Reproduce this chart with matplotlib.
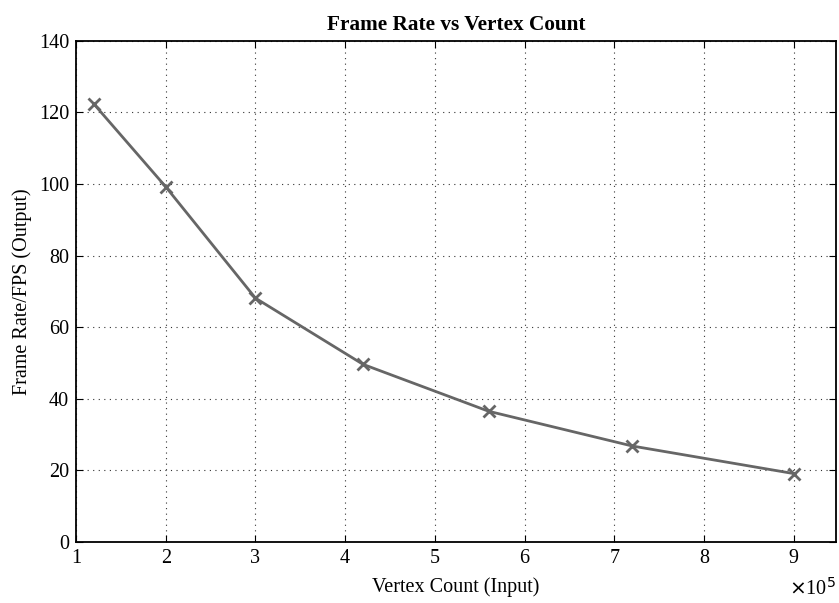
import numpy as np
from matplotlib import pyplot as plt

vertex_count = [1.2e5, 2e5, 3e5, 4.2e5, 5.6e5, 7.2e5, 9e5]
frame_rate = [122.3, 99.2, 68.1, 49.6, 36.5, 26.8, 19.1]
x_ticks = [1, 2, 3, 4, 5, 6, 7, 8, 9]
y_ticks = [0, 20, 40, 60, 80, 100, 120, 140]

plt.rcParams['font.family'] = ['Liberation Serif', 'DejaVu Serif']
plt.rcParams['font.size'] = 14.5

fig = plt.figure(figsize=(8.39, 6.03), dpi=100)
ax = fig.add_axes([0.0906, 0.1012, 0.9058, 0.8313])

x = np.array(vertex_count) / 1e5
ax.plot(x, frame_rate, color='#666666', lw=2, marker='x', ms=9, mew=2)

ax.set_xlim(1, 9.47)
ax.set_ylim(0, 140)
ax.set_xticks(x_ticks)
ax.set_yticks(y_ticks)
ax.grid(True, color='#333333', ls=(0, (1, 4)), lw=0.8)
ax.tick_params(direction='in', top=True, right=True, length=5, width=0.8, pad=5)
for s in ax.spines.values():
    s.set_linewidth(1.3)

ax.set_title('Frame Rate vs Vertex Count', fontweight='bold', fontsize=15.3, pad=8)
ax.set_xlabel('Vertex Count (Input)', labelpad=7)
ax.set_ylabel('Frame Rate/FPS (Output)', labelpad=5)
ax.text(1.0, -0.072, r'$\times$10$^5$', transform=ax.transAxes, ha='right', va='top')

plt.savefig('out.png', dpi=100)
